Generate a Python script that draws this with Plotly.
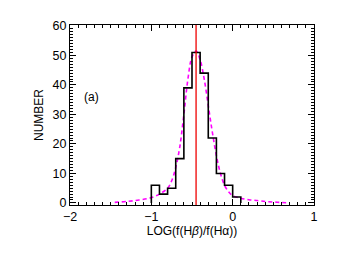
import plotly.graph_objects as go

# Histogram (bin left edges, counts), bin width 0.1
bin_edges = [-1.0, -0.9, -0.8, -0.7, -0.6, -0.5, -0.4, -0.3, -0.2, -0.1, 0.0, 0.1]
counts = [6, 3, 5, 15, 39, 51, 44, 22, 10, 6, 2]

# Fitted curve (magenta dashed)
fit_x = [-1.45, -1.3, -1.15, -1.0, -0.9, -0.8, -0.75, -0.7, -0.65, -0.6, -0.55, -0.5,
         -0.45, -0.4, -0.35, -0.3, -0.25, -0.2, -0.15, -0.1, -0.05, 0.0, 0.1, 0.2,
         0.3, 0.4, 0.5, 0.6, 0.7]
fit_y = [0.2, 0.5, 1.0, 1.8, 3.0, 5.0, 7.5, 12, 19, 30, 42, 49.5,
         51.5, 48.5, 42, 33, 24, 16, 10, 6, 3.8, 2.5, 1.6, 1.1,
         0.8, 0.5, 0.3, 0.15, 0.0]

median_x = -0.45

# step outline
step_x = [bin_edges[0]] + bin_edges[:-1] + [bin_edges[-1]]
step_y = [0] + counts + [0]

fig = go.Figure()
fig.add_trace(go.Scatter(x=fit_x, y=fit_y, mode="lines", line_shape="spline",
                         line=dict(color="#ff00ff", width=1.6, dash="4px,3px"),
                         hoverinfo="skip"))
fig.add_trace(go.Scatter(x=step_x, y=step_y, mode="lines", line_shape="hv",
                         line=dict(color="black", width=1.6), hoverinfo="skip"))
fig.add_shape(type="line", x0=median_x, x1=median_x, y0=0, y1=1, xref="x", yref="paper",
              line=dict(color="#ee0000", width=1.3))
fig.add_annotation(x=-1.85, y=36, text="(a)", showarrow=False, xanchor="left",
                   font=dict(size=12, color="black"))

axis_common = dict(showgrid=False, zeroline=False, showline=True, linecolor="black",
                   linewidth=1.3, mirror="allticks", ticks="inside", ticklen=6,
                   tickwidth=1, tickcolor="black", automargin=False,
                   tickfont=dict(size=12.5, color="black"))

fig.update_xaxes(range=[-2, 1], dtick=1, tick0=0,
                 minor=dict(dtick=0.1, ticks="inside", ticklen=3, tickcolor="black"),
                 title=dict(text="LOG(f(H<i>β</i>)/f(Hα))", font=dict(size=12, color="black"),
                            standoff=2),
                 tickformat="d", **axis_common)
fig.update_yaxes(range=[-0.7, 60.3], dtick=10, tick0=0,
                 minor=dict(dtick=1, ticks="inside", ticklen=3, tickcolor="black"),
                 title=dict(text="NUMBER", font=dict(size=12, color="black"), standoff=6),
                 **axis_common)

# page body has an 8px default margin, so offsets are compensated here
fig.update_layout(width=349, height=257, margin=dict(l=62, r=43, t=17, b=60),
                  paper_bgcolor="white", plot_bgcolor="white", showlegend=False,
                  font=dict(family="Liberation Sans, Arial, sans-serif", color="black"))

fig.write_html("out.html")
